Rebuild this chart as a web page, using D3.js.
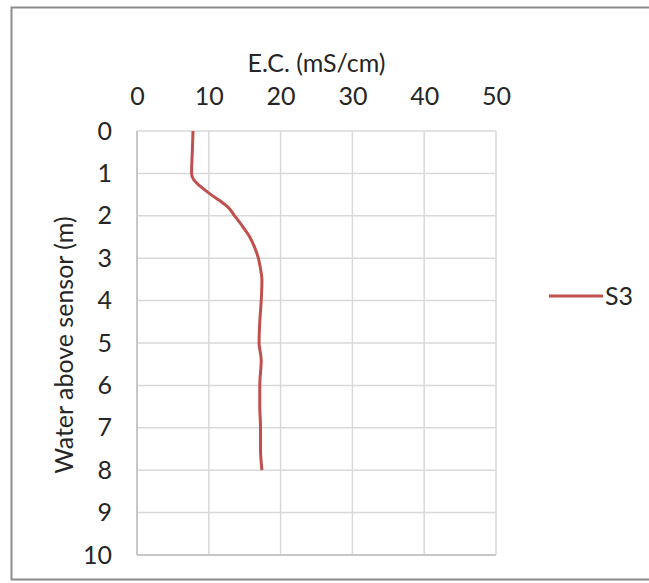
<!DOCTYPE html>
<html>
<head>
<meta charset="utf-8">
<script src="https://cdn.jsdelivr.net/npm/d3@7"></script>
<style>
  body { margin: 0; background: #fff; }
  text { font-family: Lato, "Open Sans", sans-serif; fill: #262626; }
</style>
</head>
<body>
<div id="ecChart"></div>
<script>
// S3 profile: depth of water above sensor (m) vs E.C. (mS/cm)
var depth = [0, 0.5, 1.0, 1.15, 1.3, 1.5, 1.65, 1.8, 2.0, 2.25, 2.5, 2.75, 3.0, 3.25, 3.5, 4.0, 4.5, 5.0, 5.4, 6.0, 6.5, 7.0, 7.5, 8.0];
var ecS3  = [7.8, 7.7, 7.6, 7.9, 8.8, 10.3, 11.6, 12.7, 13.6, 14.7, 15.7, 16.4, 16.9, 17.2, 17.4, 17.3, 17.1, 17.0, 17.3, 17.1, 17.1, 17.2, 17.2, 17.4];
var xTicks = [0, 10, 20, 30, 40, 50];
var yTicks = [0, 1, 2, 3, 4, 5, 6, 7, 8, 9, 10];
var seriesName = "S3";

var W = 649, H = 583;
var margin = {top: 131, left: 137, right: 153, bottom: 28};
var width = W - margin.left - margin.right;
var height = H - margin.top - margin.bottom;
var fs = "25px";

var svg = d3.select("#ecChart").append("svg")
    .attr("width", W)
    .attr("height", H);

// chart frame
svg.append("rect")
    .attr("x", 11.5).attr("y", 7.5)
    .attr("width", W + 10).attr("height", 572)
    .attr("fill", "none")
    .attr("stroke", "#8c8c8c")
    .attr("stroke-width", 2);

var g = svg.append("g")
    .attr("transform", "translate(" + margin.left + "," + margin.top + ")");

var x = d3.scaleLinear().domain([0, 50]).range([0, width]);
var y = d3.scaleLinear().domain([0, 10]).range([0, height]);

// gridlines
g.selectAll(".vgrid").data(xTicks).enter().append("line")
    .attr("x1", function(d){ return x(d); }).attr("x2", function(d){ return x(d); })
    .attr("y1", 0).attr("y2", height)
    .attr("stroke", "#d9d9d9").attr("stroke-width", 1.5);

g.selectAll(".hgrid").data(yTicks).enter().append("line")
    .attr("x1", 0).attr("x2", width)
    .attr("y1", function(d){ return y(d); }).attr("y2", function(d){ return y(d); })
    .attr("stroke", "#d9d9d9").attr("stroke-width", 1.5);

// axes (labels only, Excel-style)
var xAxis = g.append("g")
    .call(d3.axisTop(x).tickValues(xTicks).tickSize(0).tickPadding(26));
var yAxis = g.append("g")
    .call(d3.axisLeft(y).tickValues(yTicks).tickSize(0).tickPadding(25));
[xAxis, yAxis].forEach(function(a){
  a.select(".domain").remove();
  a.selectAll("text").style("font-size", fs).attr("fill", "#262626");
});
// left edge and bottom line slightly darker
g.append("line").attr("x1", 0).attr("x2", 0).attr("y1", 0).attr("y2", height)
    .attr("stroke", "#c8c8c8").attr("stroke-width", 2);
g.append("line").attr("x1", 0).attr("x2", width).attr("y1", height).attr("y2", height)
    .attr("stroke", "#c8c8c8").attr("stroke-width", 2);

// axis titles
svg.append("text")
    .attr("x", margin.left + x(25)).attr("y", 72)
    .attr("text-anchor", "middle")
    .style("font-size", fs)
    .text("E.C. (mS/cm)");

svg.append("text")
    .attr("transform", "translate(73," + (margin.top + y(5.05)) + ") rotate(-90)")
    .attr("text-anchor", "middle")
    .style("font-size", fs)
    .text("Water above sensor (m)");

// series line
var pts = depth.map(function(d, i){ return [ecS3[i], d]; });
var line = d3.line()
    .x(function(d){ return x(d[0]); })
    .y(function(d){ return y(d[1]); })
    .curve(d3.curveMonotoneY);

g.append("path")
    .datum(pts)
    .attr("fill", "none")
    .attr("stroke", "#c0504d")
    .attr("stroke-width", 3)
    .attr("d", line);

// legend
var lg = svg.append("g").attr("transform", "translate(549,296)");
lg.append("line").attr("x1", 0).attr("x2", 54).attr("y1", 0).attr("y2", 0)
    .attr("stroke", "#c0504d").attr("stroke-width", 3);
lg.append("text").attr("x", 56).attr("y", 9)
    .style("font-size", fs)
    .text(seriesName);
</script>
</body>
</html>
